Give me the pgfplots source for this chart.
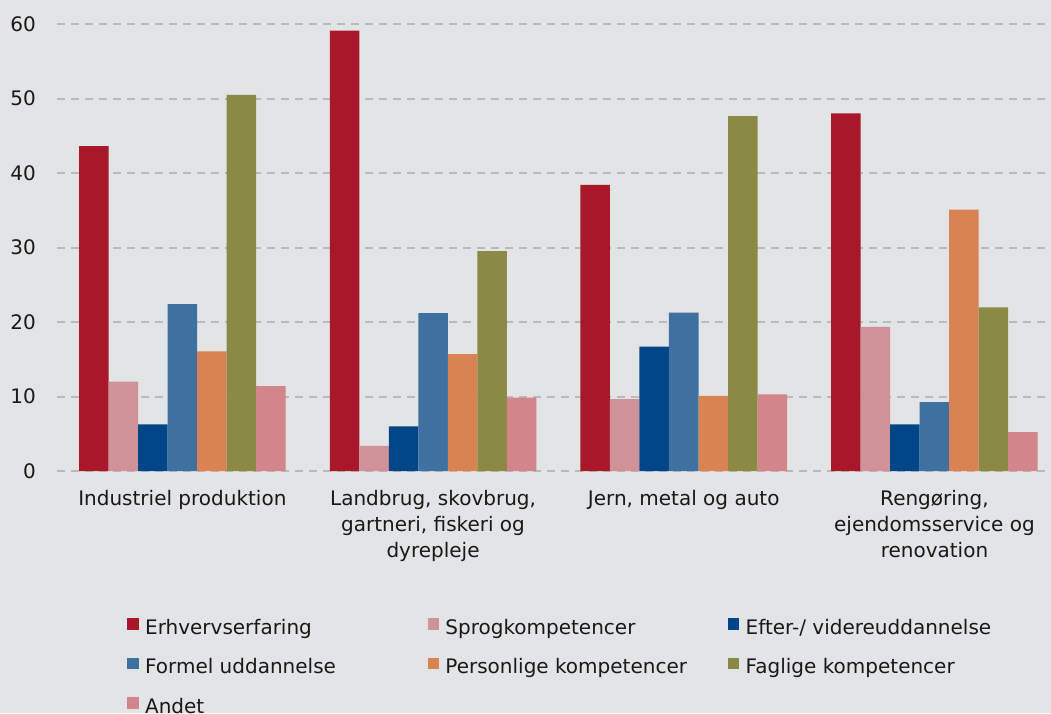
\documentclass[border=0pt]{standalone}
\usepackage{fontspec}
\setmainfont{DejaVu Sans}
\usepackage{pgfplots}
\pgfplotsset{compat=1.18}
\definecolor{bg}{RGB}{227,228,230}
\definecolor{cA}{RGB}{168,24,42}
\definecolor{cB}{RGB}{206,146,152}
\definecolor{cC}{RGB}{0,69,135}
\definecolor{cD}{RGB}{62,113,160}
\definecolor{cE}{RGB}{217,131,82}
\definecolor{cF}{RGB}{138,138,69}
\definecolor{cG}{RGB}{210,134,139}
\definecolor{gridc}{RGB}{186,186,188}
\newcommand{\legtxt}[1]{\makebox[289pt][l]{\hspace{6.5pt}\rule[-7pt]{0pt}{24pt}#1}}
\begin{document}
\begin{tikzpicture}[x=1pt,y=1pt]
\fill[bg] (0,0) rectangle (1051,713);
\begin{axis}[
  at={(57pt,242pt)}, anchor=south west,
  scale only axis, width=989pt, height=447pt,
  xmin=-0.5, xmax=3.445, ymin=0, ymax=60,
  ytick={0,10,...,60},
  xtick={0,1,2,3},
  xticklabels={Industriel produktion,{Landbrug, skovbrug,\\gartneri, fiskeri og\\dyrepleje},{Jern, metal og auto},{Rengøring,\\ejendomsservice og\\renovation}},
  axis line style={draw=none},
  major tick style={draw=none},
  ymajorgrids,
  major grid style={gridc, line width=2pt, dash pattern=on 8pt off 6pt},
  /pgf/number format/assume math mode=true,
  yticklabel style={font=\fontsize{20}{25}\selectfont, inner sep=0pt, anchor=east, xshift=-21pt, text=black!90},
  xticklabel style={font=\fontsize{20}{26}\selectfont, inner sep=0pt, anchor=north, align=center, yshift=-14.8pt, text=black!90},
  ybar=0pt, bar width=0.1177,
  legend columns=3,
  legend cell align=left,
  legend style={at={(0.0711,-0.3273)}, anchor=north west, draw=none, fill=none, inner sep=0pt, outer sep=0pt, /tikz/row sep=21pt, /tikz/column sep=0pt,
    nodes={inner sep=0pt, outer sep=0pt, font=\fontsize{20}{25}\selectfont, text=black!90}},
  legend image code/.code={\fill[#1] (0pt,-3pt) rectangle (11.3pt,8.5pt);},
]
\addplot[fill=cA, draw=none] coordinates {(0,43.6) (1,59.1) (2,38.4) (3,48.0)};
\addlegendentry{\legtxt{Erhvervserfaring}}
\addplot[fill=cB, draw=none] coordinates {(0,12.0) (1,3.36) (2,9.66) (3,19.33)};
\addlegendentry{\legtxt{Sprogkompetencer}}
\addplot[fill=cC, draw=none] coordinates {(0,6.27) (1,6.0) (2,16.7) (3,6.27)};
\addlegendentry{\legtxt{Efter-/ videreuddannelse}}
\addplot[fill=cD, draw=none] coordinates {(0,22.4) (1,21.2) (2,21.25) (3,9.26)};
\addlegendentry{\legtxt{Formel uddannelse}}
\addplot[fill=cE, draw=none] coordinates {(0,16.06) (1,15.7) (2,10.07) (3,35.1)};
\addlegendentry{\legtxt{Personlige kompetencer}}
\addplot[fill=cF, draw=none] coordinates {(0,50.5) (1,29.5) (2,47.65) (3,21.97)};
\addlegendentry{\legtxt{Faglige kompetencer}}
\addplot[fill=cG, draw=none] coordinates {(0,11.4) (1,9.84) (2,10.3) (3,5.23)};
\addlegendentry{\legtxt{Andet}}
\end{axis}
\pgfresetboundingbox
\useasboundingbox (0,0) rectangle (1051,713);
\end{tikzpicture}
\end{document}
